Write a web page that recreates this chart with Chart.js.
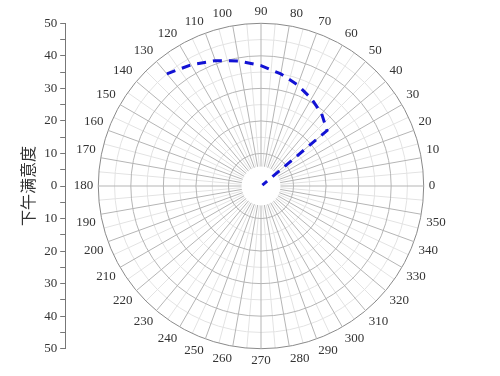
<!DOCTYPE html>
<html>
<head>
<meta charset="utf-8">
<script src="https://cdn.jsdelivr.net/npm/chart.js@4"></script>
<style>
  html, body { margin: 0; background: #fff; }
  canvas { display: block; }
</style>
</head>
<body>
<canvas id="chart" width="500" height="376"></canvas>
<script>
// angular tick labels (degrees, counter-clockwise from the right)
const angleTicks = [0, 10, 20, 30, 40, 50, 60, 70, 80, 90, 100, 110, 120, 130, 140, 150, 160, 170,
    180, 190, 200, 210, 220, 230, 240, 250, 260, 270, 280, 290, 300, 310, 320, 330, 340, 350];

// the dashed curve: angle (deg) and afternoon satisfaction (radius)
const curveAngles = [130, 120, 110, 100, 90, 80, 70, 60, 50, 40, 30];
const satisfaction = [45, 43, 41, 39, 37, 35, 33, 31, 29, 26.5, 0.5];

const radialMax = 50;
const serif = 'Liberation Serif';

// radial scales go clockwise, so walk the labels backwards: 0, 350, 340, ...
const majorLabels = angleTicks.map((a, i) => String(angleTicks[(angleTicks.length - i) % angleTicks.length]));
const minorLabels = [];
majorLabels.forEach(l => { minorLabels.push(l, ''); });

const seriesData = majorLabels.map(l => {
    const k = curveAngles.indexOf(Number(l));
    return k < 0 ? null : satisfaction[k];
});

const polarExtras = {
    id: 'polarExtras',
    afterLayout(chart) {
        // make the side axis run exactly along the vertical diameter
        const r = chart.scales.r;
        const y = chart.scales.y;
        y.top = r.yCenter - r.drawingArea;
        y.bottom = r.yCenter + r.drawingArea;
        y.height = y.bottom - y.top;
        y.configure();
    },
    beforeDatasetsDraw(chart) {
        // empty disc in the middle where the spokes stop
        const r = chart.scales.r;
        const ctx = chart.ctx;
        ctx.save();
        ctx.fillStyle = '#fff';
        ctx.beginPath();
        ctx.arc(r.xCenter, r.yCenter, r.drawingArea * 0.12, 0, Math.PI * 2);
        ctx.fill();
        ctx.restore();
    }
};

const labelFont = { family: serif, size: 13, lineHeight: 1.1 };

new Chart(document.getElementById('chart'), {
    type: 'radar',
    data: {
        labels: majorLabels,
        datasets: [{
            label: '下午满意度',
            data: seriesData,
            rAxisID: 'r',
            borderColor: '#1212d4',
            backgroundColor: 'transparent',
            borderWidth: 3,
            borderDash: [9, 7],
            pointRadius: 0,
            fill: false,
            spanGaps: false
        }]
    },
    options: {
        responsive: false,
        animation: false,
        layout: { padding: { left: 14, right: 45, top: 5, bottom: 7 } },
        plugins: {
            legend: { display: false },
            tooltip: { enabled: false }
        },
        scales: {
            y: {
                type: 'linear',
                position: 'left',
                min: -radialMax,
                max: radialMax,
                grid: { drawOnChartArea: false, tickLength: 5, tickColor: '#777' },
                border: { color: '#777' },
                ticks: {
                    stepSize: 5,
                    autoSkip: false,
                    padding: 3,
                    color: '#333',
                    // tiny line height keeps the end labels from eating vertical space
                    font: { family: serif, size: 13, lineHeight: 0.01 },
                    callback: v => v % 10 === 0 ? Math.abs(v) : ''
                },
                title: {
                    display: true,
                    text: '下午满意度',
                    color: '#333',
                    font: { family: 'Noto Sans CJK SC', size: 16 },
                    padding: { top: 4, bottom: 4 }
                }
            },
            rMinor: {
                type: 'radialLinear',
                labels: minorLabels,
                min: 0,
                max: radialMax,
                startAngle: 90,
                ticks: { display: false, stepSize: 5, z: -1 },
                grid: {
                    circular: true,
                    color: ctx => ctx.tick.value % 10 ? '#e3e3e3' : 'transparent'
                },
                angleLines: {
                    color: ctx => ctx.index % 2 ? '#e3e3e3' : 'transparent'
                },
                pointLabels: {
                    color: 'transparent',
                    padding: 5,
                    font: labelFont
                }
            },
            r: {
                min: 0,
                max: radialMax,
                startAngle: 90,
                ticks: { display: false, stepSize: 10 },
                grid: {
                    circular: true,
                    color: ctx => ctx.tick.value === radialMax ? '#8a8a8a' : '#b5b5b5'
                },
                angleLines: { color: '#b5b5b5' },
                pointLabels: {
                    color: '#333',
                    padding: 5,
                    font: labelFont
                }
            }
        }
    },
    plugins: [polarExtras]
});
</script>
</body>
</html>
